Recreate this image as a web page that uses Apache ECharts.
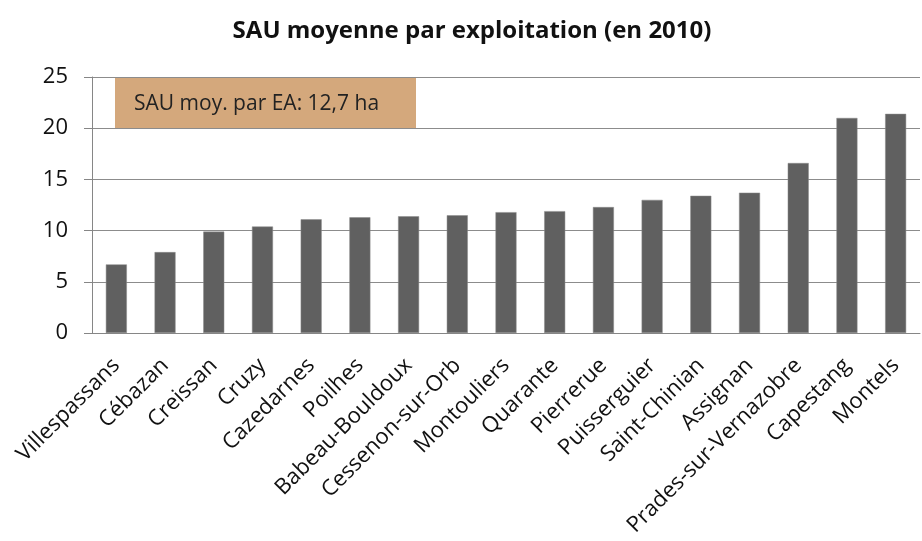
<!DOCTYPE html>
<html>
<head>
<meta charset="utf-8">
<script src="https://cdn.jsdelivr.net/npm/echarts@6/dist/echarts.min.js"></script>
<style>
  html, body { margin: 0; padding: 0; background: #fff; }
  #chart { width: 922px; height: 541px; }
</style>
</head>
<body>
<div id="chart"></div>
<script>
const communes = ['Villespassans', 'Cébazan', 'Creissan', 'Cruzy', 'Cazedarnes', 'Poilhes',
  'Babeau-Bouldoux', 'Cessenon-sur-Orb', 'Montouliers', 'Quarante', 'Pierrerue',
  'Puisserguier', 'Saint-Chinian', 'Assignan', 'Prades-sur-Vernazobre', 'Capestang', 'Montels']
const sauMoyenne = [6.7, 7.9, 9.9, 10.4, 11.1, 11.3, 11.4, 11.5, 11.8, 11.9, 12.3,
  13.0, 13.4, 13.7, 16.6, 21.0, 21.4]
const yTicks = [0, 5, 10, 15, 20, 25]

const font = 'Open Sans'
const chart = echarts.init(document.getElementById('chart'))
chart.setOption({
  animation: false,
  title: {
    text: 'SAU moyenne par exploitation (en 2010)',
    left: 467, top: 14, textAlign: 'center',
    textStyle: { fontFamily: font, fontSize: 24, fontWeight: 'bold', color: '#111' }
  },
  grid: { left: 92, right: 2, top: 77, bottom: 208 },
  xAxis: {
    type: 'category',
    data: communes,
    axisLine: { lineStyle: { color: '#868686' } },
    axisTick: { length: 8, lineStyle: { color: '#868686' } },
    axisLabel: { rotate: 45, interval: 0, margin: 29, fontFamily: font, fontSize: 22, color: '#111' }
  },
  yAxis: {
    type: 'value',
    min: yTicks[0], max: yTicks[yTicks.length - 1], interval: 5,
    axisLine: { show: true, lineStyle: { color: '#868686' } },
    axisTick: { show: true, length: 8, lineStyle: { color: '#868686' } },
    splitLine: { lineStyle: { color: '#8c8c8c', width: 1 } },
    axisLabel: { margin: 24, fontFamily: font, fontSize: 22, color: '#111' }
  },
  series: [{
    type: 'bar',
    data: sauMoyenne,
    barWidth: 21,
    itemStyle: { color: '#606060', borderColor: '#8a8a8a', borderWidth: 0.5 }
  }],
  graphic: [{
    type: 'group', left: 115, top: 77,
    children: [
      { type: 'rect', shape: { x: 0, y: 0, width: 301, height: 52 }, style: { fill: '#D4A87C' } },
      { type: 'text', x: 19, y: 27, style: { text: 'SAU moy. par EA: 12,7 ha', fontFamily: font, fontSize: 21, fill: '#222', verticalAlign: 'middle' } }
    ]
  }]
})
</script>
</body>
</html>
